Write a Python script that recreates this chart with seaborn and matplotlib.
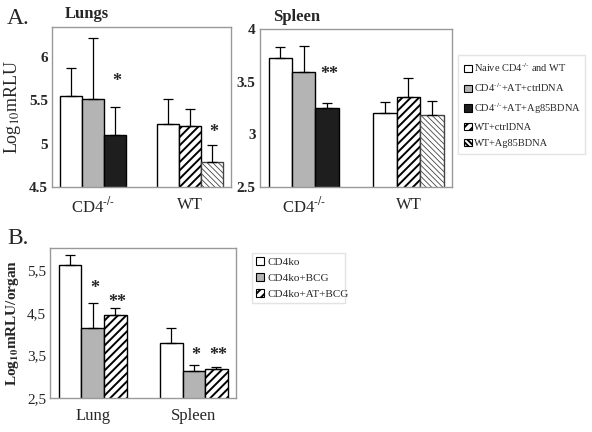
import pandas as pd
import seaborn as sns
import matplotlib.pyplot as plt
from matplotlib.patches import Patch

# Panel A data (log10 mRLU), three bars per group
a_groups = ["CD4$^{\\text{-/-}}$", "WT"]
a_slots = ["s1", "s2", "s3"]
lung_means = [5.55, 5.52, 5.10, 5.23, 5.21, 4.79]
lung_errs = [0.32, 0.70, 0.32, 0.29, 0.19, 0.19]
spleen_means = [3.72, 3.59, 3.25, 3.20, 3.35, 3.18]
spleen_errs = [0.11, 0.25, 0.05, 0.11, 0.18, 0.14]
a_legend = ["Naive CD4$^{\\text{-/-}}$ and WT", "CD4$^{\\text{-/-}}$+AT+ctrlDNA",
            "CD4$^{\\text{-/-}}$+AT+Ag85BDNA", "WT+ctrlDNA", "WT+Ag85BDNA"]
lung_stars = {2: ("*", 5.72), 5: ("*", 5.13)}
spleen_stars = {2: ("**", 3.57)}

# Panel B data
b_groups = ["Lung", "Spleen"]
b_slots = ["CD4ko", "CD4ko+BCG", "CD4ko+AT+BCG"]
b_means = [5.62, 4.15, 4.45, 3.80, 3.12, 3.18]
b_errs = [0.23, 0.57, 0.17, 0.35, 0.16, 0.05]
b_stars = {1: ("*", 5.07), 2: ("**", 4.74), 4: ("*", 3.5), 5: ("**", 3.5)}

# styles: (facecolor, hatch)
sty = {
    "white": ("white", ""),
    "gray": ("#b4b4b4", ""),
    "black": ("#1e1e1e", ""),
    "diag": ("white", "////"),
    "dots": ("white", "\\\\\\\\\\\\"),
}
a_styles = ["white", "gray", "black", "white", "diag", "dots"]
a_leg_styles = ["white", "gray", "black", "diag", "dots"]
b_styles = ["white", "gray", "diag", "white", "gray", "diag"]

sns.set_style("white")
plt.rcParams["font.family"] = ["Liberation Serif", "DejaVu Serif"]
plt.rcParams["mathtext.fontset"] = "stix"
plt.rcParams["hatch.linewidth"] = 1.4


def draw(ax, groups, slots, means, errs, styles, stars, width):
    df = pd.DataFrame({
        "group": [g for g in groups for _ in slots],
        "slot": slots * len(groups),
        "val": means,
    })
    sns.barplot(data=df, x="group", y="val", hue="slot", order=groups,
                hue_order=slots, width=width, errorbar=None, ax=ax,
                legend=False, edgecolor="black", linewidth=1.0)
    # patches come out hue-major; reorder to group-major
    bars = sorted(ax.patches, key=lambda p: p.get_x())
    for i, p in enumerate(bars):
        fc, h = sty[styles[i]]
        p.set_facecolor(fc)
        p.set_hatch(h)
        p.set_edgecolor("black")
        if styles[i] == "dots":
            p.set_edgecolor("#444444")
            if hasattr(p, "set_hatch_linewidth"):
                p.set_hatch_linewidth(0.6)
        cx = p.get_x() + p.get_width() / 2
        ax.errorbar(cx, means[i], yerr=[[0], [errs[i]]], fmt="none",
                    ecolor="black", elinewidth=0.9, capsize=3.5, capthick=0.9)
        if i in stars:
            s, y = stars[i]
            ax.text(cx + 0.02, y, s, ha="center", va="center",
                    fontsize=13, fontweight="bold")
    ax.set_xlabel("")
    ax.set_ylabel("")
    for sp in ax.spines.values():
        sp.set_color("#999999")
        sp.set_linewidth(1.0)
    ax.tick_params(axis="y", length=0, labelsize=11, pad=3)
    ax.tick_params(axis="x", length=0, labelsize=12, pad=7)


fig = plt.figure(figsize=(5.92, 4.32), dpi=100)

ax1 = fig.add_axes([0.088, 0.567, 0.302, 0.371])
draw(ax1, a_groups, a_slots, lung_means, lung_errs, a_styles, lung_stars, 0.68)
ax1.set_ylim(4.5, 6.35)
ax1.set_yticks([4.5, 5, 5.5, 6])
ax1.set_yticklabels(["4.5", "5", "5.5", "6"], fontweight="bold")
ax1.set_ylabel("Log$_{10}$mRLU", fontsize=13, labelpad=4)
ax1.set_title("Lungs", fontsize=12, fontweight="bold", loc="left", x=0.07, pad=6)

ax2 = fig.add_axes([0.439, 0.567, 0.325, 0.366])
draw(ax2, a_groups, a_slots, spleen_means, spleen_errs, a_styles, spleen_stars, 0.67)
ax2.set_ylim(2.5, 4.0)
ax2.set_yticks([2.5, 3, 3.5, 4])
ax2.set_yticklabels(["2.5", "3", "3.5", "4"], fontweight="bold")
ax2.set_title("Spleen", fontsize=12, fontweight="bold", loc="left", x=0.07, pad=6)

fig.text(0.012, 0.945, "A.", fontsize=17)

handles_a = [Patch(facecolor=sty[s][0], hatch=sty[s][1], edgecolor="black",
                   linewidth=0.8) for s in a_leg_styles]
fig.legend(handles_a, a_legend, loc="upper left", mode="expand",
           bbox_to_anchor=(0.7736, 0.6481, 0.2145, 0.2246), borderaxespad=0,
           fontsize=7.5, frameon=True, fancybox=False, edgecolor="#dddddd",
           handlelength=0.7, handleheight=0.7, handletextpad=0.25,
           labelspacing=0.66, borderpad=0.6)

ax3 = fig.add_axes([0.085, 0.079, 0.314, 0.347])
draw(ax3, b_groups, b_slots, b_means, b_errs, b_styles, b_stars, 0.67)
ax3.set_ylim(2.5, 6.02)
ax3.set_yticks([2.5, 3.5, 4.5, 5.5])
ax3.set_yticklabels(["2,5", "3,5", "4,5", "5,5"])
ax3.set_ylabel("Log$_{\\mathbf{10}}$mRLU/organ", fontsize=11,
               fontweight="bold", labelpad=4)
fig.text(0.012, 0.435, "B.", fontsize=17)

handles_b = [Patch(facecolor=sty[s][0], hatch=sty[s][1], edgecolor="black",
                   linewidth=0.8) for s in ["white", "gray", "diag"]]
fig.legend(handles_b, b_slots, loc="upper left", mode="expand",
           bbox_to_anchor=(0.4257, 0.29, 0.157, 0.1244), borderaxespad=0,
           fontsize=8, frameon=True, fancybox=False, edgecolor="#dddddd",
           handlelength=0.7, handleheight=0.7, handletextpad=0.3,
           labelspacing=0.55, borderpad=0.4)

fig.savefig("out.png", dpi=100)
